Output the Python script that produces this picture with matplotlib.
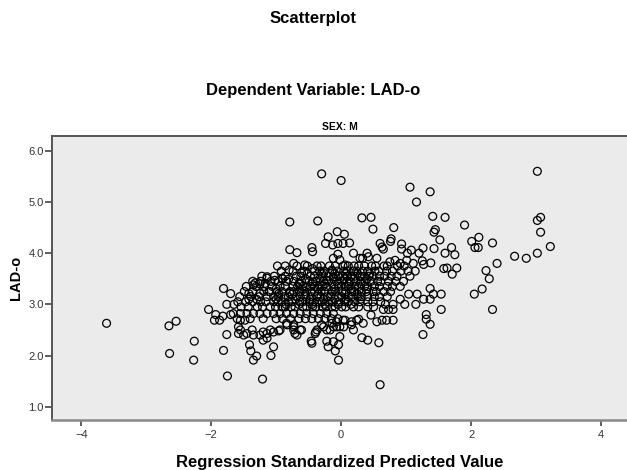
import matplotlib.pyplot as plt
from matplotlib.ticker import FormatStrFormatter

plt.rcParams['font.family'] = ['Liberation Sans', 'DejaVu Sans']

# punten buiten de dichte wolk (x = gestandaardiseerde voorspelling, y = LAD-o)
low_pts = [
    (-3.61, 2.63), (-2.65, 2.58), (-2.54, 2.67), (-2.64, 2.04), (-2.26, 2.28), (-2.27, 1.91),
    (-2.04, 2.90), (-1.93, 2.80), (-1.95, 2.69), (-1.87, 2.69), (-1.82, 2.77),
    (-1.81, 3.31), (-1.70, 3.21), (-1.76, 3.00), (-1.65, 3.00), (-1.70, 2.80),
    (-1.76, 2.41), (-1.81, 2.10), (-1.75, 1.60), (-1.21, 1.54),
    (-1.42, 3.21), (-1.42, 3.10), (-1.30, 3.10), (-1.25, 3.21), (-1.35, 3.38),
    (-1.55, 2.69), (-1.48, 2.69), (-1.58, 2.56), (-1.58, 2.43), (-1.50, 2.40), (-1.45, 2.43),
    (-1.37, 2.50), (-1.35, 2.40), (-1.55, 2.50),
    (-1.41, 2.21), (-1.39, 2.09), (-1.35, 1.91), (-1.30, 1.99), (-1.04, 2.17), (-1.08, 2.00),
    (-1.20, 2.30), (-1.14, 2.34), (-1.25, 2.40), (-1.20, 2.46), (-1.09, 2.50),
    (-0.96, 2.48), (-0.83, 2.60), (-0.73, 2.50), (-0.68, 2.40), (-0.63, 2.50), (-0.73, 2.60),
    (-0.46, 2.28), (-0.45, 2.24), (-0.22, 2.28), (-0.20, 2.17), (-0.09, 2.09), (-0.04, 1.91),
    (-0.39, 2.46), (-0.27, 2.56), (-0.17, 2.50), (-0.07, 2.56),
    (0.60, 1.43), (-0.04, 2.21), (-0.12, 2.27), (-0.02, 2.37),
    (0.32, 2.35), (0.41, 2.30), (0.58, 2.25),
    (1.26, 2.41), (1.37, 2.61), (1.31, 2.71), (1.31, 2.80), (1.54, 2.90), (2.33, 2.90),
    (2.05, 3.20), (2.17, 3.30), (2.28, 3.50),
    (1.54, 3.20), (1.42, 3.20), (1.37, 3.31), (1.37, 3.10), (1.27, 3.10), (1.17, 3.20),
    (1.15, 3.00), (1.04, 3.20), (0.98, 3.00), (0.91, 3.10),
    (0.80, 2.69), (0.70, 2.69), (0.63, 2.69), (0.55, 2.66), (0.80, 2.90), (0.73, 2.90),
    (0.65, 2.90), (0.80, 3.00), (0.68, 3.00),
    (0.46, 2.79), (0.27, 2.71), (0.19, 2.50), (0.04, 2.56), (0.06, 2.69), (0.16, 2.66),
    (-0.22, 2.50), (-0.12, 2.56), (-0.07, 2.66),
    (-0.84, 2.63), (-0.73, 2.56), (-0.71, 2.43), (-0.61, 2.50), (-0.94, 2.50), (-1.04, 2.46),
    (-1.14, 2.43), (-0.37, 2.50), (-0.40, 2.43), (-0.30, 2.60), (-0.14, 2.63),
    (-0.02, 2.56), (0.03, 2.69), (0.16, 2.60), (0.24, 2.69), (0.34, 2.63),
]

high_pts = [
    (-0.30, 5.55), (0.00, 5.42), (1.06, 5.29), (1.37, 5.20), (1.16, 5.00), (3.02, 5.60),
    (-0.36, 4.63), (0.32, 4.69), (0.46, 4.70), (0.49, 4.47), (0.81, 4.50),
    (1.41, 4.72), (1.60, 4.70), (1.90, 4.55), (1.45, 4.46), (1.43, 4.41), (1.52, 4.26),
    (3.07, 4.70), (3.02, 4.64), (3.07, 4.41), (3.22, 4.13), (3.02, 4.00), (2.67, 3.94), (2.85, 3.90),
    (2.33, 4.20), (2.40, 3.80), (2.23, 3.66),
    (2.12, 4.31), (2.01, 4.23), (2.06, 4.11), (2.11, 4.11),
    (1.70, 4.11), (1.75, 3.97), (1.60, 4.00),
    (1.78, 3.71), (1.63, 3.71), (1.58, 3.70), (1.71, 3.59),
    (1.25, 3.85), (1.38, 3.81), (1.27, 3.78), (1.43, 4.09), (1.26, 4.10),
    (0.93, 4.18), (0.77, 4.28), (0.76, 4.23), (0.60, 4.19), (0.63, 4.12), (0.65, 4.08),
    (-0.06, 4.42), (0.05, 4.37), (-0.20, 4.32),
    (-0.24, 4.19), (-0.13, 4.16), (-0.05, 4.19), (0.03, 4.19), (0.13, 4.20),
    (-0.45, 4.11), (-0.44, 4.03),
    (1.02, 4.00), (1.08, 4.06), (1.20, 4.00), (0.93, 4.08),
    (0.19, 4.00), (0.33, 3.90), (0.42, 3.93), (0.55, 3.90), (-0.05, 3.98), (-0.12, 3.90),
    (0.75, 3.83), (0.83, 3.86), (0.91, 3.80), (1.01, 3.86), (1.11, 3.80),
    (-0.79, 4.61), (-0.79, 4.07), (-0.68, 4.01),
    (-0.73, 3.80), (-0.80, 3.67), (-0.56, 3.77), (-0.44, 3.70), (-0.61, 3.61),
    (-0.27, 3.61), (-0.14, 3.67), (-0.02, 3.87), (0.06, 3.77), (0.29, 3.90), (0.40, 4.00),
    (-1.32, 3.42), (-1.25, 3.40), (-1.14, 3.51), (-1.02, 3.47), (-0.91, 3.51), (-0.81, 3.49),
    (-1.10, 3.25), (-0.96, 3.21), (-0.79, 3.21),
    (-0.63, 3.41), (-0.53, 3.34), (-0.43, 3.44), (-0.32, 3.38), (-0.22, 3.47), (-0.12, 3.54),
    (-1.17, 3.41), (-1.14, 3.54),
]

core_rows = {
    3.75: [-0.98, -0.86, -0.68, -0.52, -0.37, -0.31, -0.18, -0.09, 0.03, 0.11, 0.2, 0.27,
           0.36, 0.47, 0.53, 0.66, 0.71, 0.87, 0.97],
    3.65: [-0.92, -0.74, -0.57, -0.41, -0.33, -0.26, -0.13, -0.06, 0.04, 0.09, 0.19, 0.24,
           0.33, 0.41, 0.52, 0.58, 0.7, 0.79, 0.92, 1.03, 1.14],
    3.60: [-0.52, -0.3, -0.1, 0.07, 0.25, 0.44],
    3.55: [-1.22, -1.03, -0.86, -0.69, -0.62, -0.47, -0.41, -0.29, -0.19, -0.04, 0.03, 0.09,
           0.16, 0.21, 0.29, 0.36, 0.43, 0.49, 0.59, 0.67, 0.77, 0.86, 1.06],
    3.50: [-0.9, -0.55, -0.33, -0.12, 0.05, 0.2, 0.4],
    3.45: [-1.36, -1.24, -1.08, -0.97, -0.84, -0.73, -0.61, -0.49, -0.39, -0.27, -0.19, -0.07,
           0.01, 0.09, 0.14, 0.23, 0.31, 0.37, 0.46, 0.56, 0.61, 0.73, 0.84, 0.96],
    3.40: [-0.65, -0.45, -0.25, -0.05, 0.12, 0.3],
    3.35: [-1.46, -1.31, -1.18, -1.06, -0.94, -0.86, -0.74, -0.67, -0.59, -0.47, -0.41, -0.29,
           -0.23, -0.11, -0.04, 0.06, 0.11, 0.21, 0.27, 0.36, 0.41, 0.51, 0.59, 0.71, 0.79, 0.91],
    3.30: [-1.0, -0.6, -0.35, -0.1, 0.15, 0.4],
    3.25: [-1.49, -1.36, -1.19, -1.11, -0.99, -0.91, -0.79, -0.73, -0.64, -0.56, -0.47, -0.41,
           -0.31, -0.26, -0.14, -0.09, 0.01, 0.07, 0.16, 0.21, 0.31, 0.39, 0.49, 0.54, 0.66, 0.76],
    3.20: [-0.75, -0.55, -0.35, -0.15, 0.05, 0.25],
    3.15: [-1.56, -1.39, -1.26, -1.14, -1.04, -0.96, -0.87, -0.81, -0.69, -0.63, -0.54, -0.46,
           -0.37, -0.31, -0.21, -0.16, -0.04, 0.01, 0.11, 0.17, 0.26, 0.31, 0.41, 0.51, 0.59, 0.71],
    3.10: [-1.0, -0.7, -0.48, -0.27, -0.1, 0.08, 0.3],
    3.05: [-1.59, -1.47, -1.36, -1.24, -1.16, -1.04, -0.97, -0.91, -0.81, -0.76, -0.64, -0.59,
           -0.49, -0.43, -0.34, -0.29, -0.19, -0.13, -0.04, 0.06, 0.11, 0.21, 0.29, 0.41, 0.49, 0.61],
    3.00: [-0.85, -0.65, -0.45, -0.25, -0.05, 0.15],
    2.95: [-1.54, -1.43, -1.29, -1.21, -1.09, -1.01, -0.91, -0.86, -0.77, -0.71, -0.59, -0.53,
           -0.44, -0.39, -0.29, -0.23, -0.14, -0.09, 0.01, 0.07, 0.19, 0.27, 0.41, 0.5],
    2.82: [-1.66, -1.55, -1.45, -1.35, -1.25, -1.14, -1.04, -0.94, -0.84, -0.73, -0.63, -0.53,
           -0.43, -0.32, -0.22, -0.12],
    2.72: [-1.6, -1.4, -1.2, -1.0, -0.9, -0.78, -0.65, -0.55, -0.45, -0.35, -0.25, -0.15, -0.05],
}

x = [p[0] for p in low_pts + high_pts]
y = [p[1] for p in low_pts + high_pts]
for lad, preds in core_rows.items():
    x += preds
    y += [lad] * len(preds)

fig = plt.figure(figsize=(6.27, 4.70), dpi=100)
ax = fig.add_axes([52 / 627, 1 - 420 / 470, 1 - 52 / 627, (420 - 136) / 470])
ax.set_facecolor('#ebebeb')

ax.scatter(x, y, s=32, facecolors='none', edgecolors='black', linewidths=0.9, zorder=3)

ax.set_xlim(-4.45, 4.4)
ax.set_ylim(0.74, 6.29)
ax.set_xticks([-4, -2, 0, 2, 4])
ax.set_yticks([1, 2, 3, 4, 5, 6])
ax.yaxis.set_major_formatter(FormatStrFormatter('%.1f'))
ax.tick_params(axis='both', labelsize=8, labelcolor='#333333', color='#444444', width=1.2)
ax.tick_params(axis='y', length=5, pad=1)
ax.tick_params(axis='x', length=4, pad=3)

for side in ['left', 'top']:
    ax.spines[side].set_color('#555555')
    ax.spines[side].set_linewidth(1.4)
ax.spines['bottom'].set_color('#888888')
ax.spines['bottom'].set_linewidth(1.8)
ax.spines['right'].set_visible(False)

# titels
fig.text(0.5, 1 - 18 / 470, 'Scatterplot', ha='center', va='center', fontsize=12, fontweight='bold')
fig.text(0.5, 1 - 91 / 470, 'Dependent Variable: LAD-o', ha='center', va='center',
         fontsize=12, fontweight='bold')
ax.set_title('SEX: M', fontsize=7.5, fontweight='bold', pad=4)

ax.set_xlabel('Regression Standardized Predicted Value', fontsize=12, fontweight='bold')
ax.xaxis.label.set_va('center')
ax.xaxis.set_label_coords(0.5, (420 - 462) / 284)
ax.set_ylabel('LAD-o', fontsize=10.5, fontweight='bold')
ax.yaxis.label.set_va('center')
ax.yaxis.set_label_coords((16 - 52) / 575, 0.5)

plt.savefig('out.png', dpi=100)
